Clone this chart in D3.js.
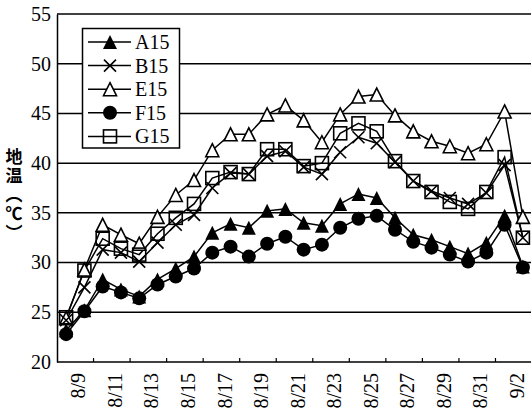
<!DOCTYPE html>
<html>
<head>
<meta charset="utf-8">
<script src="https://cdn.jsdelivr.net/npm/d3@7"></script>
<style>
    body { margin: 0; background: #fff; }
    svg { display: block; }
    text { font-family: "Liberation Serif", serif; fill: #000; }
</style>
</head>
<body>
<svg id="chart" width="531" height="409"></svg>
<script>
// data
var dates = ["8/8", "8/9", "8/10", "8/11", "8/12", "8/13", "8/14", "8/15", "8/16", "8/17",
    "8/18", "8/19", "8/20", "8/21", "8/22", "8/23", "8/24", "8/25", "8/26", "8/27",
    "8/28", "8/29", "8/30", "8/31", "9/1", "9/2"];

var seriesNames = ["A15", "B15", "E15", "F15", "G15"];

var a15 = [23.2, 25.2, 28.3, 27.3, 26.6, 28.3, 29.4, 30.6, 33.0, 33.9, 33.5, 35.2, 35.4,
    34.0, 33.7, 35.9, 36.9, 36.5, 34.5, 32.8, 32.3, 31.6, 30.9, 32.0, 34.7, 29.6];
var b15 = [24.2, 27.5, 31.3, 31.0, 30.1, 32.0, 33.8, 34.8, 37.5, 39.0, 38.9, 40.7, 41.2,
    39.6, 38.9, 41.1, 42.6, 42.0, 40.1, 38.2, 37.2, 36.5, 35.9, 37.0, 39.8, 32.5];
var e15 = [24.4, 29.3, 33.8, 32.8, 31.9, 34.6, 36.8, 38.3, 41.3, 42.9, 42.9, 44.9, 45.8,
    44.3, 42.1, 44.9, 46.7, 46.9, 44.8, 43.2, 42.2, 41.7, 41.0, 41.9, 45.2, 34.6];
var f15 = [22.8, 25.1, 27.6, 27.0, 26.4, 27.8, 28.6, 29.4, 31.0, 31.6, 30.6, 31.9, 32.6,
    31.3, 31.8, 33.5, 34.4, 34.7, 33.3, 32.1, 31.5, 30.8, 30.1, 31.0, 33.8, 29.5];
var g15 = [24.5, 29.2, 32.4, 31.4, 30.8, 32.9, 34.5, 35.9, 38.5, 39.1, 38.9, 41.4, 41.4,
    39.7, 40.0, 43.0, 44.0, 43.2, 40.2, 38.2, 37.1, 36.1, 35.4, 37.1, 40.6, 32.5];

var yTicks = [20, 25, 30, 35, 40, 45, 50, 55];
var dateLabels = ["8/9", "8/11", "8/13", "8/15", "8/17", "8/19", "8/21", "8/23", "8/25",
    "8/27", "8/29", "8/31", "9/2"];
var yTitle = "地温（℃）";

(function() {
    var W = 531;
    var plotLeft = 57, plotTop = 14, plotBottom = 362;
    var dayW = 18.27;
    var serif = "'Liberation Serif', serif";

    var svg = d3.select("#chart");

    var x = d3.scaleBand()
        .domain(dates)
        .range([plotLeft, plotLeft + dates.length * dayW])
        .padding(0);
    var cx = function(d) { return x(d) + x.bandwidth() / 2; };

    var y = d3.scaleLinear()
        .domain([20, 55])
        .range([plotBottom, plotTop]);

    // horizontal grid lines (top one is the frame)
    svg.append("g")
        .selectAll("line")
        .data(yTicks.filter(function(t) { return t > 20; }))
        .join("line")
        .attr("x1", plotLeft).attr("x2", W)
        .attr("y1", function(d) { return y(d); })
        .attr("y2", function(d) { return y(d); })
        .attr("stroke", "#000")
        .attr("stroke-width", 1.5);

    // y axis
    var yAxis = svg.append("g")
        .attr("transform", "translate(" + plotLeft + ",0)")
        .call(d3.axisLeft(y).tickValues(yTicks).tickSize(0).tickSizeOuter(0).tickPadding(6));
    yAxis.select(".domain").attr("stroke", "#000").attr("stroke-width", 1.5);
    yAxis.selectAll("text")
        .style("font-family", serif)
        .style("font-size", "20px")
        .attr("fill", "#000");

    // x axis line + inner ticks every two days
    svg.append("line")
        .attr("x1", plotLeft).attr("x2", W)
        .attr("y1", plotBottom).attr("y2", plotBottom)
        .attr("stroke", "#000").attr("stroke-width", 1.5);

    svg.append("g")
        .selectAll("line")
        .data(dates.filter(function(d, i) { return i > 0 && i % 2 == 0; }))
        .join("line")
        .attr("x1", function(d) { return x(d); })
        .attr("x2", function(d) { return x(d); })
        .attr("y1", plotBottom).attr("y2", plotBottom - 4)
        .attr("stroke", "#000").attr("stroke-width", 1.2);

    svg.append("g")
        .selectAll("text")
        .data(dateLabels)
        .join("text")
        .attr("transform", function(d) {
            return "translate(" + (cx(d) - 6) + "," + (plotBottom + 11) + ") rotate(-90)";
        })
        .attr("text-anchor", "end")
        .attr("dy", "0.35em")
        .style("font-family", serif)
        .style("font-size", "20px")
        .text(function(d) { return d; });

    // y title, vertical writing
    svg.append("text")
        .attr("x", 14)
        .attr("y", 148)
        .style("writing-mode", "vertical-rl")
        .style("letter-spacing", "2px")
        .style("font-family", "'Noto Sans CJK JP', sans-serif")
        .style("font-size", "17px")
        .style("font-weight", 700)
        .text(yTitle);

    // markers
    function triPath(s) {
        return "M0," + (-s / 2) + "L" + (s / 2) + "," + (s / 2) + "L" + (-s / 2) + "," + (s / 2) + "Z";
    }
    function drawMarker(g, type) {
        if (type == "A15") {
            g.append("path").attr("d", triPath(14)).attr("fill", "#000");
        } else if (type == "B15") {
            g.append("path").attr("d", "M-6,-6L6,6M-6,6L6,-6")
                .attr("stroke", "#000").attr("stroke-width", 1.6).attr("fill", "none");
        } else if (type == "E15") {
            g.append("path").attr("d", triPath(13)).attr("fill", "#fff")
                .attr("stroke", "#000").attr("stroke-width", 1.6);
        } else if (type == "F15") {
            g.append("circle").attr("r", 7).attr("fill", "#000");
        } else {
            g.append("rect").attr("x", -6.5).attr("y", -6.5).attr("width", 13).attr("height", 13)
                .attr("fill", "none").attr("stroke", "#000").attr("stroke-width", 1.6);
        }
    }

    var seriesValues = [a15, b15, e15, f15, g15];
    var line = d3.line()
        .x(function(d, i) { return cx(dates[i]); })
        .y(function(d) { return y(d); });

    var plot = svg.append("g");

    seriesValues.forEach(function(vals) {
        plot.append("path")
            .datum(vals)
            .attr("d", line)
            .attr("fill", "none")
            .attr("stroke", "#000")
            .attr("stroke-width", 1.5);
    });

    var markerOrder = [2, 4, 1, 3, 0];
    markerOrder.forEach(function(si) {
        seriesValues[si].forEach(function(v, i) {
            var g = plot.append("g")
                .attr("transform", "translate(" + cx(dates[i]) + "," + y(v) + ")");
            drawMarker(g, seriesNames[si]);
        });
    });

    // legend
    var legend = svg.append("g");
    legend.append("rect")
        .attr("x", 82.5).attr("y", 28.5)
        .attr("width", 97).attr("height", 119.5)
        .attr("fill", "#fff")
        .attr("stroke", "#000")
        .attr("stroke-width", 1.5);

    seriesNames.forEach(function(name, i) {
        var ly = 42 + i * 23.6;
        legend.append("line")
            .attr("x1", 88).attr("x2", 131)
            .attr("y1", ly).attr("y2", ly)
            .attr("stroke", "#000").attr("stroke-width", 1.5);
        var g = legend.append("g").attr("transform", "translate(110," + ly + ")");
        drawMarker(g, name);
        legend.append("text")
            .attr("x", 135).attr("y", ly)
            .attr("dy", "0.35em")
            .style("font-family", serif)
            .style("font-size", "20px")
            .text(name);
    });
})();
</script>
</body>
</html>
